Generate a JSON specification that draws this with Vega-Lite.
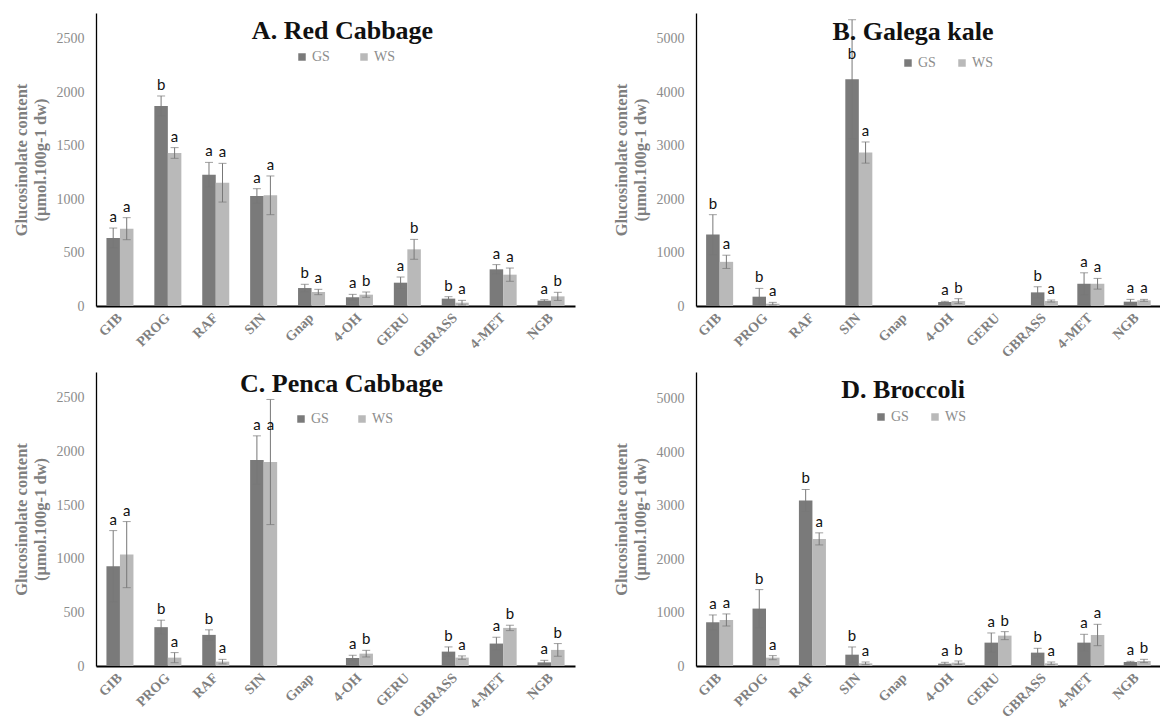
{
  "$schema": "https://vega.github.io/schema/vega-lite/v6.json",
  "background": "white",
  "padding": {"left": 13, "top": 13, "right": 0, "bottom": 0},
  "bounds": "flush",
  "columns": 2,
  "spacing": {"row": 66, "column": 121},
  "datasets": {"cats": [
    {"p":"A","c":"GIB"},{"p":"A","c":"PROG"},{"p":"A","c":"RAF"},{"p":"A","c":"SIN"},{"p":"A","c":"Gnap"},{"p":"A","c":"4-OH"},{"p":"A","c":"GERU"},{"p":"A","c":"GBRASS"},{"p":"A","c":"4-MET"},{"p":"A","c":"NGB"},
    {"p":"B","c":"GIB"},{"p":"B","c":"PROG"},{"p":"B","c":"RAF"},{"p":"B","c":"SIN"},{"p":"B","c":"Gnap"},{"p":"B","c":"4-OH"},{"p":"B","c":"GERU"},{"p":"B","c":"GBRASS"},{"p":"B","c":"4-MET"},{"p":"B","c":"NGB"},
    {"p":"C","c":"GIB"},{"p":"C","c":"PROG"},{"p":"C","c":"RAF"},{"p":"C","c":"SIN"},{"p":"C","c":"Gnap"},{"p":"C","c":"4-OH"},{"p":"C","c":"GERU"},{"p":"C","c":"GBRASS"},{"p":"C","c":"4-MET"},{"p":"C","c":"NGB"},
    {"p":"D","c":"GIB"},{"p":"D","c":"PROG"},{"p":"D","c":"RAF"},{"p":"D","c":"SIN"},{"p":"D","c":"Gnap"},{"p":"D","c":"4-OH"},{"p":"D","c":"GERU"},{"p":"D","c":"GBRASS"},{"p":"D","c":"4-MET"},{"p":"D","c":"NGB"}
  ]},
  "data": {"values": [
    {"p":"A","c":"GIB","s":"GS","v":636,"lo":543,"hi":729,"at":729,"l":"a"},
    {"p":"A","c":"GIB","s":"WS","v":723,"lo":620,"hi":826,"at":826,"l":"a"},
    {"p":"A","c":"PROG","s":"GS","v":1870,"lo":1776,"hi":1964,"at":1964,"l":"b"},
    {"p":"A","c":"PROG","s":"WS","v":1431,"lo":1381,"hi":1481,"at":1481,"l":"a"},
    {"p":"A","c":"RAF","s":"GS","v":1228,"lo":1113,"hi":1343,"at":1343,"l":"a"},
    {"p":"A","c":"RAF","s":"WS","v":1153,"lo":972,"hi":1334,"at":1334,"l":"a"},
    {"p":"A","c":"SIN","s":"GS","v":1029,"lo":961,"hi":1097,"at":1097,"l":"a"},
    {"p":"A","c":"SIN","s":"WS","v":1035,"lo":854,"hi":1216,"at":1216,"l":"a"},
    {"p":"A","c":"Gnap","s":"GS","v":168,"lo":133,"hi":203,"at":203,"l":"b"},
    {"p":"A","c":"Gnap","s":"WS","v":131,"lo":106,"hi":156,"at":156,"l":"a"},
    {"p":"A","c":"4-OH","s":"GS","v":81,"lo":53,"hi":109,"at":109,"l":"a"},
    {"p":"A","c":"4-OH","s":"WS","v":106,"lo":81,"hi":131,"at":131,"l":"b"},
    {"p":"A","c":"GERU","s":"GS","v":218,"lo":165,"hi":271,"at":271,"l":"a"},
    {"p":"A","c":"GERU","s":"WS","v":530,"lo":437,"hi":623,"at":623,"l":"b"},
    {"p":"A","c":"GBRASS","s":"GS","v":69,"lo":51,"hi":87,"at":87,"l":"b"},
    {"p":"A","c":"GBRASS","s":"WS","v":31,"lo":9,"hi":53,"at":53,"l":"a"},
    {"p":"A","c":"4-MET","s":"GS","v":343,"lo":299,"hi":387,"at":387,"l":"a"},
    {"p":"A","c":"4-MET","s":"WS","v":293,"lo":231,"hi":355,"at":355,"l":"a"},
    {"p":"A","c":"NGB","s":"GS","v":50,"lo":41,"hi":59,"at":59,"l":"a"},
    {"p":"A","c":"NGB","s":"WS","v":90,"lo":52,"hi":128,"at":128,"l":"b"},

    {"p":"B","c":"GIB","s":"GS","v":1335,"lo":962,"hi":1708,"at":1708,"l":"b"},
    {"p":"B","c":"GIB","s":"WS","v":826,"lo":702,"hi":950,"at":950,"l":"a"},
    {"p":"B","c":"PROG","s":"GS","v":174,"lo":19,"hi":329,"at":329,"l":"b"},
    {"p":"B","c":"PROG","s":"WS","v":43,"lo":18,"hi":68,"at":68,"l":"a"},
    {"p":"B","c":"SIN","s":"GS","v":4242,"lo":3130,"hi":5354,"at":4500,"l":"b"},
    {"p":"B","c":"SIN","s":"WS","v":2870,"lo":2672,"hi":3068,"at":3068,"l":"a"},
    {"p":"B","c":"4-OH","s":"GS","v":75,"lo":63,"hi":87,"at":87,"l":"a"},
    {"p":"B","c":"4-OH","s":"WS","v":93,"lo":49,"hi":137,"at":137,"l":"b"},
    {"p":"B","c":"GBRASS","s":"GS","v":255,"lo":150,"hi":360,"at":360,"l":"b"},
    {"p":"B","c":"GBRASS","s":"WS","v":93,"lo":74,"hi":112,"at":112,"l":"a"},
    {"p":"B","c":"4-MET","s":"GS","v":416,"lo":211,"hi":621,"at":621,"l":"a"},
    {"p":"B","c":"4-MET","s":"WS","v":416,"lo":316,"hi":516,"at":516,"l":"a"},
    {"p":"B","c":"NGB","s":"GS","v":81,"lo":38,"hi":124,"at":124,"l":"a"},
    {"p":"B","c":"NGB","s":"WS","v":106,"lo":88,"hi":124,"at":124,"l":"a"},

    {"p":"C","c":"GIB","s":"GS","v":929,"lo":596,"hi":1262,"at":1262,"l":"a"},
    {"p":"C","c":"GIB","s":"WS","v":1038,"lo":730,"hi":1346,"at":1346,"l":"a"},
    {"p":"C","c":"PROG","s":"GS","v":362,"lo":297,"hi":427,"at":427,"l":"b"},
    {"p":"C","c":"PROG","s":"WS","v":78,"lo":31,"hi":125,"at":125,"l":"a"},
    {"p":"C","c":"RAF","s":"GS","v":290,"lo":243,"hi":337,"at":337,"l":"b"},
    {"p":"C","c":"RAF","s":"WS","v":41,"lo":20,"hi":62,"at":62,"l":"a"},
    {"p":"C","c":"SIN","s":"GS","v":1920,"lo":1695,"hi":2145,"at":2145,"l":"a"},
    {"p":"C","c":"SIN","s":"WS","v":1901,"lo":1318,"hi":2484,"at":2145,"l":"a"},
    {"p":"C","c":"4-OH","s":"GS","v":75,"lo":50,"hi":100,"at":100,"l":"a"},
    {"p":"C","c":"4-OH","s":"WS","v":115,"lo":84,"hi":146,"at":146,"l":"b"},
    {"p":"C","c":"GBRASS","s":"GS","v":134,"lo":90,"hi":178,"at":178,"l":"b"},
    {"p":"C","c":"GBRASS","s":"WS","v":78,"lo":62,"hi":94,"at":94,"l":"a"},
    {"p":"C","c":"4-MET","s":"GS","v":209,"lo":150,"hi":268,"at":268,"l":"a"},
    {"p":"C","c":"4-MET","s":"WS","v":355,"lo":330,"hi":380,"at":380,"l":"b"},
    {"p":"C","c":"NGB","s":"GS","v":34,"lo":15,"hi":53,"at":53,"l":"a"},
    {"p":"C","c":"NGB","s":"WS","v":150,"lo":91,"hi":209,"at":209,"l":"b"},

    {"p":"D","c":"GIB","s":"GS","v":818,"lo":681,"hi":955,"at":955,"l":"a"},
    {"p":"D","c":"GIB","s":"WS","v":861,"lo":748,"hi":974,"at":974,"l":"a"},
    {"p":"D","c":"PROG","s":"GS","v":1074,"lo":719,"hi":1429,"at":1429,"l":"b"},
    {"p":"D","c":"PROG","s":"WS","v":156,"lo":118,"hi":194,"at":194,"l":"a"},
    {"p":"D","c":"RAF","s":"GS","v":3096,"lo":2890,"hi":3302,"at":3302,"l":"b"},
    {"p":"D","c":"RAF","s":"WS","v":2378,"lo":2265,"hi":2491,"at":2491,"l":"a"},
    {"p":"D","c":"SIN","s":"GS","v":212,"lo":68,"hi":356,"at":356,"l":"b"},
    {"p":"D","c":"SIN","s":"WS","v":50,"lo":25,"hi":75,"at":75,"l":"a"},
    {"p":"D","c":"4-OH","s":"GS","v":44,"lo":19,"hi":69,"at":69,"l":"a"},
    {"p":"D","c":"4-OH","s":"WS","v":62,"lo":30,"hi":94,"at":94,"l":"b"},
    {"p":"D","c":"GERU","s":"GS","v":437,"lo":256,"hi":618,"at":618,"l":"a"},
    {"p":"D","c":"GERU","s":"WS","v":568,"lo":493,"hi":643,"at":643,"l":"b"},
    {"p":"D","c":"GBRASS","s":"GS","v":250,"lo":169,"hi":331,"at":331,"l":"b"},
    {"p":"D","c":"GBRASS","s":"WS","v":50,"lo":25,"hi":75,"at":75,"l":"a"},
    {"p":"D","c":"4-MET","s":"GS","v":437,"lo":281,"hi":593,"at":593,"l":"a"},
    {"p":"D","c":"4-MET","s":"WS","v":580,"lo":380,"hi":780,"at":780,"l":"a"},
    {"p":"D","c":"NGB","s":"GS","v":75,"lo":63,"hi":87,"at":87,"l":"a"},
    {"p":"D","c":"NGB","s":"WS","v":94,"lo":63,"hi":125,"at":125,"l":"b"}
  ]},
  "concat": [
    {
      "width": 479, "height": 293,
      "title": {"text": "A. Red Cabbage", "offset": -31, "dx": 7},
      "transform": [{"filter": "datum.p === 'A'"}],
      "layer": [
        {"mark": {"type": "bar"},
         "encoding": {
           "x": {"field": "c", "type": "nominal", "scale": {"domain": ["GIB","PROG","RAF","SIN","Gnap","4-OH","GERU","GBRASS","4-MET","NGB"], "paddingInner": 0.436, "paddingOuter": 0.218}, "title": null, "axis": {"labels": false}},
           "xOffset": {"field": "s", "type": "nominal", "scale": {"domain": ["GS","WS"], "paddingInner": 0, "paddingOuter": 0}},
           "y": {"field": "v", "type": "quantitative", "scale": {"domain": [0, 2740], "nice": false}, "axis": {"values": [0,500,1000,1500,2000,2500], "format": "d"}, "title": ["Glucosinolate content", "(μmol.100g-1 dw)"]},
           "color": {"field": "s", "type": "nominal", "scale": {"domain": ["GS","WS"], "range": ["#7a7a7a","#b9b9b9"]}, "legend": {"orient": "none", "legendX": 199, "legendY": 37, "columnPadding": 27}}
         }},
        {"mark": {"type": "rule", "color": "#777777", "strokeWidth": 1},
         "encoding": {
           "x": {"field": "c", "type": "nominal", "title": null, "axis": {"labels": false}},
           "xOffset": {"field": "s", "type": "nominal"},
           "y": {"field": "lo", "type": "quantitative", "title": ["Glucosinolate content", "(μmol.100g-1 dw)"]},
           "y2": {"field": "hi"}
         }},
        {"mark": {"type": "tick", "color": "#777777", "thickness": 1, "size": 8},
         "encoding": {
           "x": {"field": "c", "type": "nominal", "title": null, "axis": {"labels": false}},
           "xOffset": {"field": "s", "type": "nominal"},
           "y": {"field": "hi", "type": "quantitative", "title": ["Glucosinolate content", "(μmol.100g-1 dw)"]}
         }},
        {"mark": {"type": "tick", "color": "#777777", "thickness": 1, "size": 8},
         "encoding": {
           "x": {"field": "c", "type": "nominal", "title": null, "axis": {"labels": false}},
           "xOffset": {"field": "s", "type": "nominal"},
           "y": {"field": "lo", "type": "quantitative", "title": ["Glucosinolate content", "(μmol.100g-1 dw)"]}
         }},
        {"mark": {"type": "text", "dy": -6, "baseline": "alphabetic", "font": "Lato", "fontSize": 15, "color": "#111111"},
         "encoding": {
           "x": {"field": "c", "type": "nominal", "title": null, "axis": {"labels": false}},
           "xOffset": {"field": "s", "type": "nominal"},
           "y": {"field": "at", "type": "quantitative", "title": ["Glucosinolate content", "(μmol.100g-1 dw)"]},
           "text": {"field": "l"}
         }},
        {"data": {"name": "cats"},
         "transform": [{"filter": "datum.p === 'A'"}],
         "mark": {"type": "text", "angle": 315, "align": "right", "baseline": "middle", "dx": -7, "dy": 7, "font": "Liberation Serif", "fontWeight": "bold", "fontSize": 14, "color": "#7f7f7f"},
         "encoding": {
           "x": {"field": "c", "type": "nominal", "title": null, "axis": {"labels": false}},
           "y": {"datum": 0, "type": "quantitative"},
           "text": {"field": "c"}
         }}
      ]
    },
    {
      "width": 464, "height": 293,
      "title": {"text": "B. Galega kale", "offset": -32, "dx": -15},
      "transform": [{"filter": "datum.p === 'B'"}],
      "layer": [
        {"mark": {"type": "bar"},
         "encoding": {
           "x": {"field": "c", "type": "nominal", "scale": {"domain": ["GIB","PROG","RAF","SIN","Gnap","4-OH","GERU","GBRASS","4-MET","NGB"], "paddingInner": 0.436, "paddingOuter": 0.218}, "title": null, "axis": {"labels": false}},
           "xOffset": {"field": "s", "type": "nominal", "scale": {"domain": ["GS","WS"], "paddingInner": 0, "paddingOuter": 0}},
           "y": {"field": "v", "type": "quantitative", "scale": {"domain": [0, 5480], "nice": false}, "axis": {"values": [0,1000,2000,3000,4000,5000], "format": "d"}, "title": ["Glucosinolate content", "(μmol.100g-1 dw)"]},
           "color": {"field": "s", "type": "nominal", "scale": {"domain": ["GS","WS"], "range": ["#7a7a7a","#b9b9b9"]}, "legend": {"orient": "none", "legendX": 205, "legendY": 43, "columnPadding": 19}}
         }},
        {"mark": {"type": "rule", "color": "#777777", "strokeWidth": 1},
         "encoding": {
           "x": {"field": "c", "type": "nominal", "title": null, "axis": {"labels": false}},
           "xOffset": {"field": "s", "type": "nominal"},
           "y": {"field": "lo", "type": "quantitative", "title": ["Glucosinolate content", "(μmol.100g-1 dw)"]},
           "y2": {"field": "hi"}
         }},
        {"mark": {"type": "tick", "color": "#777777", "thickness": 1, "size": 8},
         "encoding": {
           "x": {"field": "c", "type": "nominal", "title": null, "axis": {"labels": false}},
           "xOffset": {"field": "s", "type": "nominal"},
           "y": {"field": "hi", "type": "quantitative", "title": ["Glucosinolate content", "(μmol.100g-1 dw)"]}
         }},
        {"mark": {"type": "tick", "color": "#777777", "thickness": 1, "size": 8},
         "encoding": {
           "x": {"field": "c", "type": "nominal", "title": null, "axis": {"labels": false}},
           "xOffset": {"field": "s", "type": "nominal"},
           "y": {"field": "lo", "type": "quantitative", "title": ["Glucosinolate content", "(μmol.100g-1 dw)"]}
         }},
        {"mark": {"type": "text", "dy": -6, "baseline": "alphabetic", "font": "Lato", "fontSize": 15, "color": "#111111"},
         "encoding": {
           "x": {"field": "c", "type": "nominal", "title": null, "axis": {"labels": false}},
           "xOffset": {"field": "s", "type": "nominal"},
           "y": {"field": "at", "type": "quantitative", "title": ["Glucosinolate content", "(μmol.100g-1 dw)"]},
           "text": {"field": "l"}
         }},
        {"data": {"name": "cats"},
         "transform": [{"filter": "datum.p === 'B'"}],
         "mark": {"type": "text", "angle": 315, "align": "right", "baseline": "middle", "dx": -7, "dy": 7, "font": "Liberation Serif", "fontWeight": "bold", "fontSize": 14, "color": "#7f7f7f"},
         "encoding": {
           "x": {"field": "c", "type": "nominal", "title": null, "axis": {"labels": false}},
           "y": {"datum": 0, "type": "quantitative"},
           "text": {"field": "c"}
         }}
      ]
    },
    {
      "width": 479, "height": 294,
      "title": {"text": "C. Penca Cabbage", "offset": -25, "dx": 6},
      "transform": [{"filter": "datum.p === 'C'"}],
      "layer": [
        {"mark": {"type": "bar"},
         "encoding": {
           "x": {"field": "c", "type": "nominal", "scale": {"domain": ["GIB","PROG","RAF","SIN","Gnap","4-OH","GERU","GBRASS","4-MET","NGB"], "paddingInner": 0.436, "paddingOuter": 0.218}, "title": null, "axis": {"labels": false}},
           "xOffset": {"field": "s", "type": "nominal", "scale": {"domain": ["GS","WS"], "paddingInner": 0, "paddingOuter": 0}},
           "y": {"field": "v", "type": "quantitative", "scale": {"domain": [0, 2740], "nice": false}, "axis": {"values": [0,500,1000,1500,2000,2500], "format": "d"}, "title": ["Glucosinolate content", "(μmol.100g-1 dw)"]},
           "color": {"field": "s", "type": "nominal", "scale": {"domain": ["GS","WS"], "range": ["#7a7a7a","#b9b9b9"]}, "legend": {"orient": "none", "legendX": 198, "legendY": 40, "columnPadding": 26}}
         }},
        {"mark": {"type": "rule", "color": "#777777", "strokeWidth": 1},
         "encoding": {
           "x": {"field": "c", "type": "nominal", "title": null, "axis": {"labels": false}},
           "xOffset": {"field": "s", "type": "nominal"},
           "y": {"field": "lo", "type": "quantitative", "title": ["Glucosinolate content", "(μmol.100g-1 dw)"]},
           "y2": {"field": "hi"}
         }},
        {"mark": {"type": "tick", "color": "#777777", "thickness": 1, "size": 8},
         "encoding": {
           "x": {"field": "c", "type": "nominal", "title": null, "axis": {"labels": false}},
           "xOffset": {"field": "s", "type": "nominal"},
           "y": {"field": "hi", "type": "quantitative", "title": ["Glucosinolate content", "(μmol.100g-1 dw)"]}
         }},
        {"mark": {"type": "tick", "color": "#777777", "thickness": 1, "size": 8},
         "encoding": {
           "x": {"field": "c", "type": "nominal", "title": null, "axis": {"labels": false}},
           "xOffset": {"field": "s", "type": "nominal"},
           "y": {"field": "lo", "type": "quantitative", "title": ["Glucosinolate content", "(μmol.100g-1 dw)"]}
         }},
        {"mark": {"type": "text", "dy": -6, "baseline": "alphabetic", "font": "Lato", "fontSize": 15, "color": "#111111"},
         "encoding": {
           "x": {"field": "c", "type": "nominal", "title": null, "axis": {"labels": false}},
           "xOffset": {"field": "s", "type": "nominal"},
           "y": {"field": "at", "type": "quantitative", "title": ["Glucosinolate content", "(μmol.100g-1 dw)"]},
           "text": {"field": "l"}
         }},
        {"data": {"name": "cats"},
         "transform": [{"filter": "datum.p === 'C'"}],
         "mark": {"type": "text", "angle": 315, "align": "right", "baseline": "middle", "dx": -7, "dy": 7, "font": "Liberation Serif", "fontWeight": "bold", "fontSize": 14, "color": "#7f7f7f"},
         "encoding": {
           "x": {"field": "c", "type": "nominal", "title": null, "axis": {"labels": false}},
           "y": {"datum": 0, "type": "quantitative"},
           "text": {"field": "c"}
         }}
      ]
    },
    {
      "width": 464, "height": 294,
      "title": {"text": "D. Broccoli", "offset": -31, "dx": -25},
      "transform": [{"filter": "datum.p === 'D'"}],
      "layer": [
        {"mark": {"type": "bar"},
         "encoding": {
           "x": {"field": "c", "type": "nominal", "scale": {"domain": ["GIB","PROG","RAF","SIN","Gnap","4-OH","GERU","GBRASS","4-MET","NGB"], "paddingInner": 0.436, "paddingOuter": 0.218}, "title": null, "axis": {"labels": false}},
           "xOffset": {"field": "s", "type": "nominal", "scale": {"domain": ["GS","WS"], "paddingInner": 0, "paddingOuter": 0}},
           "y": {"field": "v", "type": "quantitative", "scale": {"domain": [0, 5500], "nice": false}, "axis": {"values": [0,1000,2000,3000,4000,5000], "format": "d"}, "title": ["Glucosinolate content", "(μmol.100g-1 dw)"]},
           "color": {"field": "s", "type": "nominal", "scale": {"domain": ["GS","WS"], "range": ["#7a7a7a","#b9b9b9"]}, "legend": {"orient": "none", "legendX": 178, "legendY": 38, "columnPadding": 19}}
         }},
        {"mark": {"type": "rule", "color": "#777777", "strokeWidth": 1},
         "encoding": {
           "x": {"field": "c", "type": "nominal", "title": null, "axis": {"labels": false}},
           "xOffset": {"field": "s", "type": "nominal"},
           "y": {"field": "lo", "type": "quantitative", "title": ["Glucosinolate content", "(μmol.100g-1 dw)"]},
           "y2": {"field": "hi"}
         }},
        {"mark": {"type": "tick", "color": "#777777", "thickness": 1, "size": 8},
         "encoding": {
           "x": {"field": "c", "type": "nominal", "title": null, "axis": {"labels": false}},
           "xOffset": {"field": "s", "type": "nominal"},
           "y": {"field": "hi", "type": "quantitative", "title": ["Glucosinolate content", "(μmol.100g-1 dw)"]}
         }},
        {"mark": {"type": "tick", "color": "#777777", "thickness": 1, "size": 8},
         "encoding": {
           "x": {"field": "c", "type": "nominal", "title": null, "axis": {"labels": false}},
           "xOffset": {"field": "s", "type": "nominal"},
           "y": {"field": "lo", "type": "quantitative", "title": ["Glucosinolate content", "(μmol.100g-1 dw)"]}
         }},
        {"mark": {"type": "text", "dy": -6, "baseline": "alphabetic", "font": "Lato", "fontSize": 15, "color": "#111111"},
         "encoding": {
           "x": {"field": "c", "type": "nominal", "title": null, "axis": {"labels": false}},
           "xOffset": {"field": "s", "type": "nominal"},
           "y": {"field": "at", "type": "quantitative", "title": ["Glucosinolate content", "(μmol.100g-1 dw)"]},
           "text": {"field": "l"}
         }},
        {"data": {"name": "cats"},
         "transform": [{"filter": "datum.p === 'D'"}],
         "mark": {"type": "text", "angle": 315, "align": "right", "baseline": "middle", "dx": -7, "dy": 7, "font": "Liberation Serif", "fontWeight": "bold", "fontSize": 14, "color": "#7f7f7f"},
         "encoding": {
           "x": {"field": "c", "type": "nominal", "title": null, "axis": {"labels": false}},
           "y": {"datum": 0, "type": "quantitative"},
           "text": {"field": "c"}
         }}
      ]
    }
  ],
  "resolve": {"legend": {"color": "independent"}},
  "config": {
    "view": {"stroke": null},
    "title": {"font": "Liberation Serif", "fontSize": 26, "fontWeight": "bold", "color": "#111111", "anchor": "middle", "frame": "group", "baseline": "alphabetic"},
    "axisX": {"ticks": false, "grid": false, "domainColor": "#000000", "domainWidth": 2},
    "axisY": {"titleFont": "Liberation Serif", "titleFontSize": 16.5, "titleFontWeight": "bold", "titleColor": "#7f7f7f", "titleLineHeight": 19, "titlePadding": 8, "labelFont": "Liberation Serif", "labelFontSize": 14, "labelColor": "#8c8c8c", "labelPadding": 12, "ticks": false, "grid": false, "domainColor": "#000000", "domainWidth": 1.3},
    "legend": {"direction": "horizontal", "title": null, "symbolType": "square", "symbolSize": 56, "symbolStrokeWidth": 0, "labelFont": "Liberation Serif", "labelFontSize": 14, "labelColor": "#8c8c8c", "labelOffset": 3, "padding": 0}
  }
}
